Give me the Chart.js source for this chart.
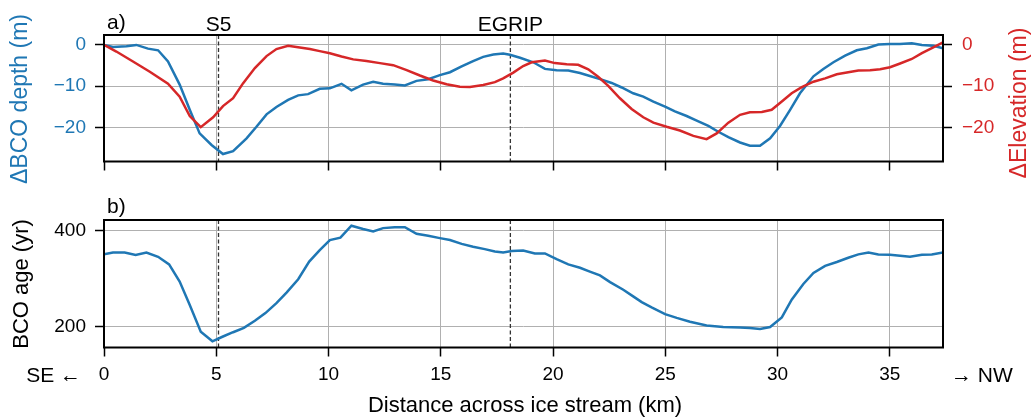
<!DOCTYPE html>
<html lang="en">
<head>
<meta charset="UTF-8" />
<title>BCO depth, elevation and age across the ice stream</title>
<script src="https://cdn.jsdelivr.net/npm/chart.js"></script>
<style>
  body { margin: 0; background: #fff; }
  .wrap { position: relative; width: 1031px; height: 420px; }
  canvas { position: absolute; left: 0; top: 0; }
</style>
</head>
<body>
<div class="wrap">
  <canvas id="chartTop" width="1031" height="420"></canvas>
  <canvas id="chartBottom" width="1031" height="420"></canvas>
</div>

<script>
// panel a) change in BCO depth (m) vs distance (km)
const depthKm = [0, 0.40, 1.00, 1.44, 1.96, 2.41, 2.85, 3.37, 3.82, 4.26, 4.79, 5.30, 5.75, 6.35, 6.79, 7.24, 7.68, 8.20, 8.65, 9.09,
  9.61, 10.06, 10.58, 11.02, 11.54, 11.99, 12.43, 12.95, 13.40, 13.92, 14.44, 14.96, 15.41, 15.93, 16.44, 16.89, 17.34, 17.78, 18.08, 18.53,
  19.12, 19.64, 20.16, 20.68, 21.20, 21.64, 22.17, 22.61, 23.06, 23.57, 24.02, 24.47, 24.99, 25.43, 25.95, 26.40, 26.92, 27.36, 27.81, 28.33,
  28.77, 29.22, 29.67, 30.11, 30.56, 31.00, 31.60, 32.04, 32.49, 33.01, 33.53, 33.98, 34.49, 35.01, 35.45, 35.98, 36.43, 36.94, 37.37];
const depthM = [0, -0.5, -0.3, 0.0, -0.9, -1.3, -4.0, -9.6, -15.7, -21.4, -24.2, -26.4, -25.7, -22.6, -19.8, -16.8, -15.0, -13.3, -12.2, -11.9,
  -10.6, -10.5, -9.4, -11.0, -9.6, -8.9, -9.4, -9.6, -9.8, -8.7, -8.3, -7.3, -6.6, -5.2, -3.9, -2.9, -2.3, -2.1, -2.4, -3.1,
  -4.2, -5.8, -6.1, -6.2, -6.8, -7.5, -8.4, -9.2, -10.3, -11.7, -12.5, -13.7, -14.9, -16.1, -17.2, -18.3, -19.6, -21.0, -22.3, -23.6,
  -24.4, -24.4, -22.6, -19.6, -15.7, -11.7, -7.6, -5.8, -4.2, -2.6, -1.3, -0.8, 0.1, 0.2, 0.2, 0.4, 0.0, -0.2, -0.8];

// panel a) change in surface elevation (m)
const elevKm = [0, 0.55, 1.29, 2.04, 2.85, 3.37, 3.82, 4.31, 4.86, 5.30, 5.75, 6.19, 6.72, 7.24, 7.68, 8.20, 8.72, 9.17, 9.61, 10.06,
  10.58, 11.10, 11.69, 12.29, 12.88, 13.48, 14.07, 14.66, 15.26, 15.85, 16.30, 16.89, 17.41, 17.78, 18.23, 18.67, 19.05, 19.64, 20.08, 20.61,
  21.12, 21.57, 22.01, 22.46, 22.98, 23.50, 24.02, 24.47, 25.06, 25.65, 26.25, 26.84, 27.29, 27.81, 28.33, 28.77, 29.30, 29.74, 30.19, 30.63,
  31.08, 31.60, 32.12, 32.64, 33.15, 33.60, 34.12, 34.57, 35.01, 35.46, 35.98, 36.43, 36.94, 37.37];
const elevM = [0, -1.6, -4.0, -6.5, -9.4, -12.5, -17.2, -19.9, -17.5, -14.8, -12.9, -9.3, -5.6, -2.7, -1.0, -0.2, -0.6, -1.0, -1.5, -2.0,
  -2.8, -3.5, -3.9, -4.4, -4.9, -6.1, -7.4, -8.6, -9.5, -10.1, -10.2, -9.7, -9.0, -8.1, -6.7, -5.1, -4.2, -3.8, -4.4, -4.7,
  -4.8, -5.9, -7.7, -9.9, -12.9, -15.5, -17.5, -18.8, -19.8, -20.7, -22.0, -22.8, -21.4, -18.8, -16.9, -16.3, -16.2, -15.7, -13.7, -11.7,
  -10.2, -8.9, -8.1, -7.1, -6.6, -6.2, -6.1, -5.9, -5.4, -4.5, -3.4, -2.0, -0.6, 0.6];

// panel b) BCO age (yr)
const ageKm = [0, 0.40, 0.92, 1.41, 1.89, 2.41, 2.90, 3.37, 3.82, 4.31, 4.83, 5.30, 5.75, 6.23, 6.72, 7.19, 7.68, 8.13, 8.65, 9.14,
  9.61, 10.06, 10.53, 11.02, 11.54, 11.99, 12.43, 12.95, 13.40, 13.92, 14.44, 14.96, 15.41, 15.93, 16.44, 16.96, 17.41, 17.78, 18.16, 18.67,
  19.19, 19.64, 20.16, 20.68, 21.20, 21.64, 22.09, 22.54, 23.13, 23.57, 23.95, 24.39, 24.99, 25.51, 26.10, 26.84, 27.58, 28.33, 28.77, 29.22,
  29.67, 30.19, 30.63, 31.15, 31.60, 32.12, 32.64, 33.15, 33.60, 34.05, 34.49, 35.01, 35.46, 35.90, 36.43, 36.87, 37.37];
const ageYr = [351, 355, 355, 350, 355, 346, 330, 294, 245, 189, 169, 179, 188, 197, 212, 228, 249, 271, 299, 336,
  360, 381, 386, 411, 404, 399, 406, 408, 408, 394, 390, 385, 381, 373, 367, 362, 357, 355, 358, 359,
  353, 353, 341, 330, 323, 315, 307, 293, 277, 263, 251, 240, 226, 218, 210, 202, 199, 198, 197, 195,
  199, 219, 256, 289, 312, 327, 335, 344, 351, 355, 351, 350, 348, 346, 350, 351, 355];

// sites marked with dashed lines
const siteNames = ['S5', 'EGRIP'];
const siteKm = [5.1, 18.1];

// tick labels
const xTicks = [0, 5, 10, 15, 20, 25, 30, 35];
const depthTicks = [-20, -10, 0];
const elevTicks = [-20, -10, 0];
const ageTicks = [200, 400];

const BLUE = '#1f77b4';
const RED = '#d62728';
const FONT = "'Liberation Sans', Arial, sans-serif";
Chart.defaults.font.family = FONT;
Chart.defaults.color = '#000';

function points(xs, ys) {
  return xs.map((x, i) => ({ x: x, y: ys[i] }));
}
function fixedTicks(values) {
  return axis => { axis.ticks = values.map(v => ({ value: v })); };
}
function minus(v) {
  return String(v).replace('-', '\u2212');
}

const gridStyle = { color: '#b0b0b0', lineWidth: 1, tickLength: 9, tickColor: '#000', tickWidth: 1.5 };

// frame, site lines and loose text for each panel
function panelPlugin(texts, showSiteNames) {
  return {
    id: 'panel',
    beforeDatasetsDraw(chart) {
      const { ctx, chartArea } = chart;
      const xs = chart.scales.x;
      ctx.save();
      ctx.strokeStyle = '#333';
      ctx.lineWidth = 1.3;
      ctx.setLineDash([4, 2.5]);
      siteKm.forEach(km => {
        const px = xs.getPixelForValue(km);
        ctx.beginPath();
        ctx.moveTo(px, chartArea.top);
        ctx.lineTo(px, chartArea.bottom);
        ctx.stroke();
      });
      ctx.restore();
    },
    afterDraw(chart) {
      const { ctx, chartArea } = chart;
      ctx.save();
      ctx.strokeStyle = '#000';
      ctx.lineWidth = 2;
      ctx.strokeRect(chartArea.left, chartArea.top, chartArea.right - chartArea.left, chartArea.bottom - chartArea.top);
      if (showSiteNames) {
        ctx.font = '21px ' + FONT;
        ctx.fillStyle = '#000';
        ctx.textAlign = 'center';
        ctx.textBaseline = 'alphabetic';
        siteNames.forEach((name, i) => {
          ctx.fillText(name, chart.scales.x.getPixelForValue(siteKm[i]), 31);
        });
      }
      texts.forEach(t => {
        ctx.save();
        ctx.font = t.size + 'px ' + FONT;
        ctx.fillStyle = t.color || '#000';
        ctx.textAlign = t.align || 'left';
        ctx.textBaseline = t.base || 'alphabetic';
        ctx.translate(t.x, t.y);
        if (t.rotate) ctx.rotate(-Math.PI / 2);
        ctx.fillText(t.text, 0, 0);
        ctx.restore();
      });
      ctx.restore();
    }
  };
}

new Chart(document.getElementById('chartTop'), {
  type: 'line',
  data: {
    datasets: [
      { data: points(elevKm, elevM), borderColor: RED, yAxisID: 'y2' },
      { data: points(depthKm, depthM), borderColor: BLUE, yAxisID: 'y' }
    ]
  },
  options: {
    responsive: false,
    animation: false,
    layout: { padding: { top: 35 } },
    plugins: { legend: { display: false }, tooltip: { enabled: false } },
    elements: { point: { radius: 0 }, line: { borderWidth: 2.5, tension: 0 } },
    scales: {
      x: {
        type: 'linear', min: 0, max: 37.37,
        afterBuildTicks: fixedTicks(xTicks),
        afterFit: s => { s.height = 420 - 161.5; },
        grid: gridStyle,
        border: { display: false },
        ticks: { display: false }
      },
      y: {
        position: 'left', min: -28.2, max: 2.4,
        afterBuildTicks: fixedTicks(depthTicks),
        afterFit: s => { s.width = 104; },
        grid: gridStyle,
        border: { display: false },
        ticks: { color: BLUE, font: { size: 19 }, padding: 9, callback: v => minus(v) }
      },
      y2: {
        position: 'right', min: -28.2, max: 2.4,
        afterBuildTicks: fixedTicks(elevTicks),
        afterFit: s => { s.width = 1031 - 943; },
        grid: { ...gridStyle, drawOnChartArea: false },
        border: { display: false },
        ticks: { color: RED, font: { size: 19 }, padding: 10, callback: v => minus(v) }
      }
    }
  },
  plugins: [panelPlugin([
    { text: 'a)', x: 107, y: 29, size: 21 },
    { text: '\u0394BCO depth (m)', x: 21, y: 99, size: 23, color: BLUE, rotate: true, align: 'center', base: 'middle' },
    { text: '\u0394Elevation (m)', x: 1020, y: 103, size: 23, color: RED, rotate: true, align: 'center', base: 'middle' }
  ], true)]
});

new Chart(document.getElementById('chartBottom'), {
  type: 'line',
  data: {
    datasets: [
      { data: points(ageKm, ageYr), borderColor: BLUE }
    ]
  },
  options: {
    responsive: false,
    animation: false,
    layout: { padding: { top: 220, right: 1031 - 943 } },
    plugins: { legend: { display: false }, tooltip: { enabled: false } },
    elements: { point: { radius: 0 }, line: { borderWidth: 2.5, tension: 0 } },
    scales: {
      x: {
        type: 'linear', min: 0, max: 37.37,
        afterBuildTicks: fixedTicks(xTicks),
        afterFit: s => { s.height = 420 - 347.5; },
        grid: gridStyle,
        border: { display: false },
        ticks: { font: { size: 19 }, padding: 7, maxRotation: 0, autoSkip: false }
      },
      y: {
        position: 'left', min: 156, max: 423,
        afterBuildTicks: fixedTicks(ageTicks),
        afterFit: s => { s.width = 104; },
        grid: gridStyle,
        border: { display: false },
        ticks: { font: { size: 19 }, padding: 9 }
      }
    }
  },
  plugins: [panelPlugin([
    { text: 'b)', x: 107, y: 213, size: 21 },
    { text: 'BCO age (yr)', x: 22, y: 284, size: 22, rotate: true, align: 'center', base: 'middle' },
    { text: 'SE \u2190', x: 81, y: 376, size: 21, align: 'right', base: 'middle' },
    { text: '\u2192 NW', x: 951, y: 376, size: 21, align: 'left', base: 'middle' },
    { text: 'Distance across ice stream (km)', x: 525, y: 406, size: 22, align: 'center', base: 'middle' }
  ], false)]
});
</script>
</body>
</html>
